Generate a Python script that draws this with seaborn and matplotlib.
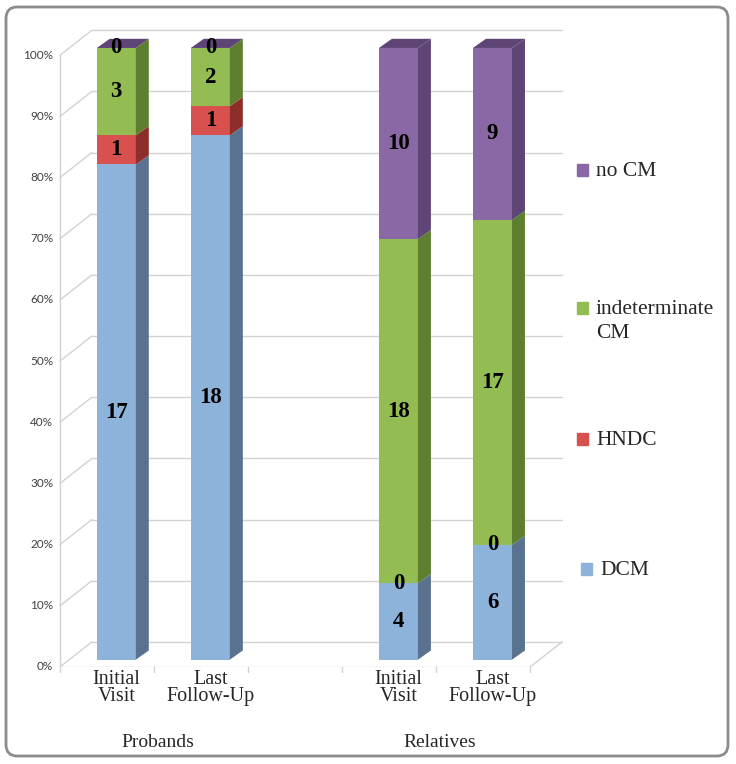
import numpy as np
import pandas as pd
import matplotlib
matplotlib.use("Agg")
import matplotlib.pyplot as plt
from matplotlib.patches import FancyBboxPatch, Rectangle
import seaborn as sns

# Data (counts per category)
groups = ["Probands", "Probands", "Relatives", "Relatives"]
visits = ["Initial\nVisit", "Last\nFollow-Up", "Initial\nVisit", "Last\nFollow-Up"]
x_pos = [0, 1, 3, 4]
dcm = [17, 18, 4, 6]
hndc = [1, 1, 0, 0]
indet = [3, 2, 18, 17]
nocm = [0, 0, 10, 9]

categories = ["DCM", "HNDC", "indeterminate\nCM", "no CM"]
front_cols = ["#8DB3DA", "#D9514E", "#93BD52", "#8A68A6"]
side_cols = ["#58728F", "#8E2E2B", "#5E7F2F", "#5E4575"]
y_ticks = [0, 10, 20, 30, 40, 50, 60, 70, 80, 90, 100]

df = pd.DataFrame({"x": x_pos, "group": groups, "visit": visits,
                   "DCM": dcm, "HNDC": hndc, "indet": indet, "nocm": nocm})
counts = df[["DCM", "HNDC", "indet", "nocm"]].to_numpy(dtype=float)
pct = counts / counts.sum(axis=1, keepdims=True) * 100
cum = np.cumsum(pct, axis=1)
bottoms = cum - pct

sns.set_style("white")
fig = plt.figure(figsize=(7.36, 7.64), dpi=100)
ax = fig.add_axes([58 / 736, 97 / 764, 505 / 736, 643.5 / 764])

W = 0.415   # bar width
DX = 0.138  # depth of bar (x)
DY = 1.5    # depth of bar (y, %)
GX = 0.34   # wall depth (x)
GY = 4.1    # wall depth (y, %)
FL = -1.2   # floor front level
x_left, x_right = -0.6, 4.4

# back wall gridlines
grid_c = "#D2D2D2"
for v in y_ticks:
    ax.plot([x_left, x_left + GX], [v + FL, v + FL + GY], color=grid_c, lw=1, zorder=0)
    ax.plot([x_left + GX, x_right + GX], [v + FL + GY] * 2, color=grid_c, lw=1, zorder=0)
    ax.text(x_left - 0.07, v + FL, f"{v}%", ha="right", va="center",
            fontsize=8.5, family="Lato", color="#404040")
ax.plot([x_left, x_left], [FL, 100 + FL], color=grid_c, lw=1, zorder=0)
# floor
ax.plot([x_left, x_right], [FL, FL], color=grid_c, lw=1, zorder=0)
ax.plot([x_right, x_right + GX], [FL, FL + GY], color=grid_c, lw=1, zorder=0)
for t in np.arange(x_left, x_right + 0.01, 1.0):
    ax.plot([t, t], [FL, FL - 0.8], color=grid_c, lw=1, zorder=0, clip_on=False)

# front faces: draw cumulative heights from top layer down
for k in range(3, -1, -1):
    sns.barplot(x=df["x"], y=cum[:, k], native_scale=True, width=W,
                color=front_cols[k], saturation=1, edgecolor="none",
                ax=ax, zorder=3)

# side faces and top face
for i, x in enumerate(x_pos):
    xr = x + W / 2
    for k in range(4):
        b, t = bottoms[i, k], cum[i, k]
        if t - b <= 0:
            continue
        ax.fill([xr, xr + DX, xr + DX, xr], [b, b + DY, t + DY, t],
                color=side_cols[k], lw=0, zorder=3)
    ax.fill([x - W / 2, x - W / 2 + DX, xr + DX, xr],
            [100, 100 + DY, 100 + DY, 100], color=side_cols[3], lw=0, zorder=3)
    # value labels
    for k in range(4):
        ax.text(x, bottoms[i, k] + pct[i, k] / 2, f"{int(counts[i, k])}",
                ha="center", va="center", fontsize=16.5, family="Liberation Serif",
                fontweight="bold", color="black", zorder=5)

ax.set_xlim(-0.62, 4.75)
ax.set_ylim(FL, 104)
ax.set_xticks(x_pos)
ax.set_xticklabels(visits, family="Liberation Serif", fontsize=14.5, linespacing=0.85)
ax.tick_params(axis="x", length=0, pad=2)
ax.set_yticks([])
ax.set_xlabel("")
ax.set_ylabel("")
sns.despine(ax=ax, left=True, bottom=True)

# group labels
for g in ["Probands", "Relatives"]:
    xs = [x for x, gg in zip(x_pos, groups) if gg == g]
    ax.text(np.mean(xs) - 0.06, -13.6, g, ha="center", va="center",
            fontsize=14, family="Liberation Serif", clip_on=False)

# legend
sq_y = [563, 433, 302, 164]
sq_x = [581, 577, 577, 577]
for k in range(4):
    fig.patches.append(Rectangle((sq_x[k] / 736, 1 - (sq_y[k] + 12) / 764), 11 / 736, 12 / 764,
                                 transform=fig.transFigure, color=front_cols[k]))
    fig.text((sq_x[k] + 19) / 736, 1 - (sq_y[k] - 2) / 764, categories[k], ha="left", va="top",
             fontsize=15.5, family="Liberation Serif", linespacing=1.35)

# outer rounded border
fig.patches.append(FancyBboxPatch((6 / 736, 8 / 764), 722 / 736, 749 / 764,
                                  boxstyle="round,pad=0,rounding_size=0.015",
                                  transform=fig.transFigure, fill=False,
                                  edgecolor="#8C8C8C", lw=2))

fig.savefig("out.png", dpi=100)
